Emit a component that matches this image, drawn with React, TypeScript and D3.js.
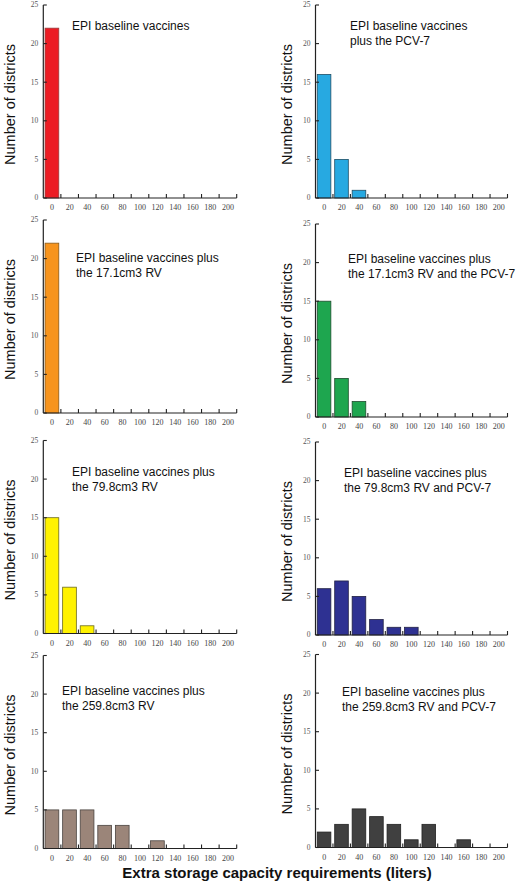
import React from "react";
import * as d3 from "d3";

const categories = ["0", "20", "40", "60", "80", "100", "120", "140", "160", "180", "200"];
const yTickValues = [0, 5, 10, 15, 20, 25];

const baselineOnly = [22, 0, 0, 0, 0, 0, 0, 0, 0, 0, 0];
const plusPCV7 = [16, 5, 1, 0, 0, 0, 0, 0, 0, 0, 0];
const plusRV171 = [22, 0, 0, 0, 0, 0, 0, 0, 0, 0, 0];
const plusRV171PCV7 = [15, 5, 2, 0, 0, 0, 0, 0, 0, 0, 0];
const plusRV798 = [15, 6, 1, 0, 0, 0, 0, 0, 0, 0, 0];
const plusRV798PCV7 = [6, 7, 5, 2, 1, 1, 0, 0, 0, 0, 0];
const plusRV2598 = [5, 5, 5, 3, 3, 0, 1, 0, 0, 0, 0];
const plusRV2598PCV7 = [2, 3, 5, 4, 3, 1, 3, 0, 1, 0, 0];

const titles = [
  ["EPI baseline vaccines"],
  ["EPI baseline vaccines", "plus the PCV-7"],
  ["EPI baseline vaccines plus", "the 17.1cm3 RV"],
  ["EPI baseline vaccines plus", "the 17.1cm3 RV and the PCV-7"],
  ["EPI baseline vaccines plus", "the 79.8cm3 RV"],
  ["EPI baseline vaccines plus", "the 79.8cm3 RV and PCV-7"],
  ["EPI baseline vaccines plus", "the 259.8cm3 RV"],
  ["EPI baseline vaccines plus", "the 259.8cm3 RV and PCV-7"],
];

const yLabel = "Number of districts";
const xLabel = "Extra storage capacity requirements (liters)";

const panelSeries = [
  baselineOnly, plusPCV7, plusRV171, plusRV171PCV7,
  plusRV798, plusRV798PCV7, plusRV2598, plusRV2598PCV7,
];
const panelColors = ["#ec1c24", "#27a9e1", "#f7941d", "#1ea64f", "#fff200", "#2e3192", "#9b8579", "#404040"];
const panelStrokes = ["#9a3a3a", "#1f4f66", "#8a5a1a", "#1d4d2d", "#6b6a20", "#222244", "#4a4440", "#222222"];

// layout: [x0, x1, bottom, titleX, titleY, labelX]
const layout = [
  [43.3, 236.7, 198, 72, 30, 15],
  [315.5, 507.5, 198, 350, 30, 292],
  [43.3, 236.7, 413, 76, 262, 15],
  [315.5, 507.5, 417, 348, 263, 292],
  [43.3, 236.7, 633.5, 72, 476, 15],
  [315.5, 507.5, 635, 344, 477, 292],
  [43.3, 236.7, 848.5, 62, 695, 15],
  [315.5, 507.5, 847.5, 342, 696, 292],
];
const PLOT_H = 193;

function Panel({ idx }: { idx: number }) {
  const [x0, x1, bottom, tx, ty, lx] = layout[idx];
  const values = panelSeries[idx];
  const xBin = d3.scaleBand<string>().domain(categories).range([x0, x1]).padding(0);
  const bw = xBin.bandwidth();
  const y = d3.scaleLinear().domain([0, 25]).range([bottom, bottom - PLOT_H]);
  const sans = "'Liberation Sans', Arial, sans-serif";
  const serif = "'Liberation Serif', 'Times New Roman', serif";
  return (
    <g>
      {values.map((v, i) =>
        v > 0 ? (
          <rect
            key={i}
            x={(xBin(categories[i]) as number) + bw * 0.1}
            width={bw * 0.78}
            y={y(v)}
            height={y(0) - y(v)}
            fill={panelColors[idx]}
            stroke={panelStrokes[idx]}
            strokeWidth={0.8}
          />
        ) : null
      )}
      {/* y axis */}
      <line x1={x0} x2={x0} y1={y(25)} y2={y(0)} stroke="#222" strokeWidth={1.2} />
      {yTickValues.map((t) => (
        <g key={t}>
          <line x1={x0} x2={x0 + 3.5} y1={y(t)} y2={y(t)} stroke="#222" strokeWidth={1.1} />
          <text x={x0 - 5} y={y(t)} dy="0.32em" textAnchor="end" fontFamily={serif} fontSize={7.5} fill="#555">
            {t}
          </text>
        </g>
      ))}
      {/* x axis */}
      <line x1={x0} x2={x1} y1={y(0)} y2={y(0)} stroke="#222" strokeWidth={1.2} />
      {categories.map((c, i) => (
        <g key={c}>
          <line
            x1={(xBin(c) as number) + bw}
            x2={(xBin(c) as number) + bw}
            y1={y(0)}
            y2={y(0) - 4}
            stroke="#222"
            strokeWidth={1.1}
          />
          <text
            x={(xBin(c) as number) + bw / 2}
            y={y(0) + 12}
            textAnchor="middle"
            fontFamily={serif}
            fontSize={8}
            fill="#444"
          >
            {c}
          </text>
        </g>
      ))}
      {/* title */}
      <text x={tx} y={ty} fontFamily={sans} fontSize={12} fill="#111">
        {titles[idx].map((line, j) => (
          <tspan key={j} x={tx} dy={j === 0 ? 0 : 14.5}>
            {line}
          </tspan>
        ))}
      </text>
      {/* y label */}
      <text
        transform={`translate(${lx},${(y(0) + y(25)) / 2 + 3}) rotate(-90)`}
        textAnchor="middle"
        fontFamily={sans}
        fontSize={14.5}
        fill="#111"
      >
        {yLabel}
      </text>
    </g>
  );
}

export default function App() {
  return (
    <svg
      width={517}
      height={884}
      style={{ position: "absolute", left: 0, top: 0, background: "#fff" }}
    >
      <rect x={0} y={0} width={517} height={884} fill="#fff" />
      {layout.map((_, i) => (
        <Panel key={i} idx={i} />
      ))}
      <text
        x={277}
        y={878}
        textAnchor="middle"
        fontFamily="'Liberation Sans', Arial, sans-serif"
        fontWeight="bold"
        fontSize={15}
        fill="#111"
      >
        {xLabel}
      </text>
    </svg>
  );
}
